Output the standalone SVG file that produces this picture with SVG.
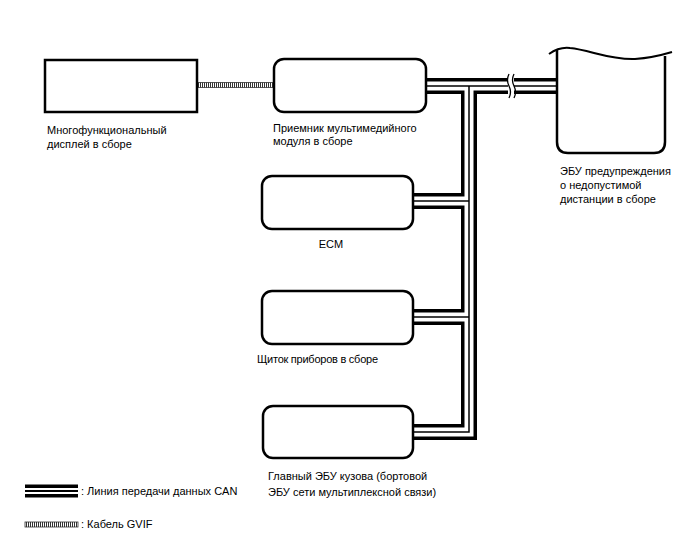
<svg xmlns="http://www.w3.org/2000/svg" width="688" height="560" viewBox="0 0 688 560">
<style>
  .box { fill: #fff; stroke: #000; stroke-width: 2.5; }
  .t { font-family: "Liberation Sans", Arial, sans-serif; font-size: 11px; fill: #000; }
  .canO { fill: none; stroke: #000; stroke-width: 16; stroke-linejoin: miter; }
  .canW { fill: none; stroke: #fff; stroke-width: 9; stroke-linejoin: miter; }
  .canI { fill: none; stroke: #000; stroke-width: 1.5; stroke-linejoin: miter; }
</style>
<defs>
  <pattern id="hatch" width="2" height="6" patternUnits="userSpaceOnUse">
    <rect width="2" height="6" fill="#fff"/>
    <rect width="1" height="6" fill="#333"/>
  </pattern>
</defs>
<rect width="688" height="560" fill="#fff"/>

<g id="connectors">
  <g class="canO">
    <path d="M426,86 H557"/>
    <path d="M469,86 V432 H413"/>
    <path d="M413,201 H469"/>
    <path d="M413,317 H469"/>
  </g>
  <g class="canW">
    <path d="M426,86 H557"/>
    <path d="M469,86 V432 H413"/>
    <path d="M413,201 H469"/>
    <path d="M413,317 H469"/>
  </g>
  <g class="canI">
    <path d="M426,86 H557"/>
    <path d="M469,86 V432 H413"/>
    <path d="M413,201 H469"/>
    <path d="M413,317 H469"/>
  </g>
  <rect x="508" y="76" width="6" height="21" fill="#fff"/>
  <path d="M509,74 q-3,6 0,12 q3,6 0,12" fill="none" stroke="#000" stroke-width="1.3"/>
  <path d="M514,74 q-3,6 0,12 q3,6 0,12" fill="none" stroke="#000" stroke-width="1.3"/>
  <rect x="197" y="82.5" width="77" height="5" fill="url(#hatch)" stroke="#333" stroke-width="0.8"/>
</g>

<g id="display">
  <rect class="box" x="45" y="60" width="152" height="52"/>
  <text class="t" x="47" y="134">Многофункциональный</text>
  <text class="t" x="47" y="148">дисплей в сборе</text>
</g>

<g id="receiver">
  <rect class="box" x="274" y="59" width="152" height="53" rx="10"/>
  <text class="t" x="273" y="132">Приемник мультимедийного</text>
  <text class="t" x="273" y="145">модуля в сборе</text>
</g>

<g id="ecu-warning">
  <path class="box" d="M557,50 V142 Q557,153 568,153 H654 Q665,153 665,142 V56"/>
  <path d="M549,54 C556,49 562,47 570,48 C590,50 610,60 635,59 C650,58 662,55 672,52" fill="none" stroke="#000" stroke-width="2"/>
  <text class="t" x="560" y="175">ЭБУ предупреждения</text>
  <text class="t" x="560" y="189">о недопустимой</text>
  <text class="t" x="560" y="203">дистанции в сборе</text>
</g>

<g id="ecm">
  <rect class="box" x="262" y="176" width="151" height="53" rx="10"/>
  <text class="t" x="331" y="248" text-anchor="middle">ECM</text>
</g>

<g id="cluster">
  <rect class="box" x="262" y="291" width="151" height="53" rx="10"/>
  <text class="t" x="257" y="363" textLength="121">Щиток приборов в сборе</text>
</g>

<g id="body-ecu">
  <rect class="box" x="263" y="406" width="150" height="52" rx="10"/>
  <text class="t" x="268" y="480">Главный ЭБУ кузова (бортовой</text>
  <text class="t" x="268" y="496">ЭБУ сети мультиплексной связи)</text>
</g>

<g id="legend">
  <rect x="25" y="484.5" width="53" height="3.5" fill="#000"/>
  <rect x="25" y="490" width="53" height="2" fill="#000"/>
  <rect x="25" y="494" width="53" height="3.5" fill="#000"/>
  <text class="t" x="81" y="495">: Линия передачи данных CAN</text>
  <rect x="25" y="522" width="53" height="5" fill="url(#hatch)" stroke="#333" stroke-width="0.8"/>
  <text class="t" x="81" y="528">: Кабель GVIF</text>
</g>
</svg>
